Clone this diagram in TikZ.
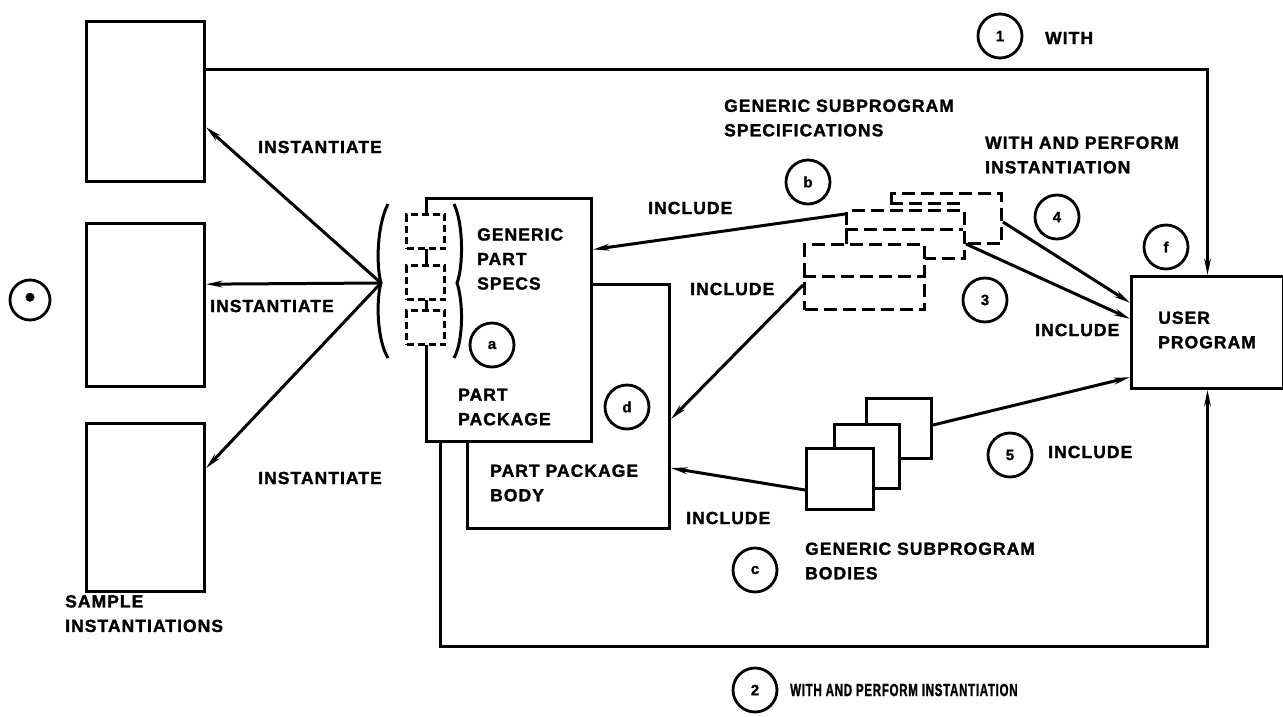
\documentclass[tikz,border=0pt]{standalone}
\usepackage{fontspec}
\setmainfont{Liberation Sans}
\newfontfamily\lblfont{Liberation Sans Bold}[LetterSpace=6,FakeBold=1.6]
\newfontfamily\numfont{Liberation Sans Bold}[FakeBold=1.2]
\usetikzlibrary{arrows.meta}
\begin{document}
\begin{tikzpicture}[x=1pt,y=-1pt,
  ln/.style={line width=3pt},
  arr/.style={ln,-{Stealth[length=16pt,width=6.5pt]}},
  lbl/.style={font=\lblfont\fontsize{17.5}{24.5}\selectfont, align=left, inner sep=0pt, anchor=west},
  cnum/.style={circle,draw,line width=2.8pt,minimum size=44pt,inner sep=0pt,font=\numfont\fontsize{15}{15}\selectfont},
  sbox/.style={draw,line width=3pt,fill=white,anchor=north west,inner sep=0pt},
  dbox/.style={draw,line width=3pt,fill=white,anchor=north west,inner sep=0pt,dash pattern=on 13pt off 6pt},
  qbox/.style={draw,line width=3pt,fill=white,anchor=north west,inner sep=0pt,dash pattern=on 7pt off 4pt,minimum width=38pt,minimum height=34pt},
]
\useasboundingbox (0,0) rectangle (1283,717);

% left sample boxes
\node[sbox,minimum width=118pt,minimum height=160pt] (s1) at (85,20) {};
\node[sbox,minimum width=118pt,minimum height=163pt] (s2) at (85,222) {};
\node[sbox,minimum width=118pt,minimum height=168pt] (s3) at (85,422) {};
\node[cnum,minimum size=40pt] (ce) at (30,300) {\fontsize{30}{30}\selectfont\textbullet};
\node[lbl,anchor=north west] (tsamp) at (65,595) {SAMPLE\\INSTANTIATIONS};

% part package body and part package
\node[sbox,minimum width=202pt,minimum height=244pt] (bd) at (466,283) {};
\node[sbox,minimum width=165pt,minimum height=243pt] (pp) at (425,197) {};
\node[qbox] (q1) at (405,213) {};
\node[qbox] (q2) at (405,264) {};
\node[qbox] (q3) at (405,309) {};

% braces
\coordinate (ap) at (381,283);
\draw[ln] (388,204) .. controls (377,225) and (376,265) .. (ap) .. controls (376,300) and (377,340) .. (388,358);
\draw[ln] (454,204) .. controls (464,225) and (463,268) .. (457,283) .. controls (463,300) and (464,340) .. (454,358);

\node[lbl] (tgps) at (477,259) {GENERIC\\PART\\SPECS};
\node[cnum] (ca) at (492,345) {a};
\node[lbl] (tpp) at (458,407) {PART\\PACKAGE};
\node[cnum] (cd) at (627,407) {d};
\node[lbl] (tbody) at (490,483) {PART PACKAGE\\BODY};

% instantiate arrows
\draw[arr] (ap) -- (s1.-23);
\draw[arr] (ap) -- (s2.19);
\draw[arr] (ap) -- (s3.33);
\node[lbl] (ti1) at (258,147) {INSTANTIATE};
\node[lbl] (ti2) at (210,306) {INSTANTIATE};
\node[lbl] (ti3) at (258,478) {INSTANTIATE};

% generic subprogram specifications (dashed stack)
\node[dbox,minimum width=110pt,minimum height=50pt] (ga) at (890,192) {};
\draw[ln,dash pattern=on 13pt off 6pt] (890,203) -- (963,203);
\node[dbox,minimum width=118pt,minimum height=48pt] (gb) at (845,209) {};
\draw[ln,dash pattern=on 13pt off 6pt] (845,229) -- (963,229);
\node[dbox,minimum width=120pt,minimum height=65pt] (gd) at (803,243) {};
\draw[ln,dash pattern=on 13pt off 6pt] (803,276) -- (923,276);
\node[lbl] (tgss) at (724,118) {GENERIC SUBPROGRAM\\SPECIFICATIONS};
\node[cnum] (cb) at (808,182) {b};

% generic subprogram bodies (solid stack)
\node[sbox,minimum width=65pt,minimum height=60pt] (ba) at (865,397) {};
\node[sbox,minimum width=65pt,minimum height=64pt] (bb) at (833,423) {};
\node[sbox,minimum width=67pt,minimum height=61pt] (bc) at (805,447) {};
\node[lbl] (tgsb) at (805,561) {GENERIC SUBPROGRAM\\BODIES};
\node[cnum] (cc) at (755,570) {c};

% user program
\node[sbox,minimum width=152pt,minimum height=112pt] (up) at (1130,275) {};
\node[lbl] (tup) at (1158,330) {USER\\PROGRAM};
\node[cnum] (cf) at (1166,247) {f};

% include arrows
\draw[arr] (gb.west |- 0,214) -- (pp.40);
\node[lbl] (tin1) at (648,208) {INCLUDE};
\draw[arr] (gd.west |- 0,285) -- (bd.-7);
\node[lbl] (tin2) at (690,289) {INCLUDE};
\draw[arr] (bc.west |- 0,490) -- (bd.-31);
\node[lbl] (tin3) at (686,518) {INCLUDE};

% user program connections
\draw[arr] (ga.east |- 0,222) -- (up.159);
\draw[arr] (gb.east |- 0,244) -- (up.170);
\draw[arr] (ba.east |- 0,425) -- (up.210);
\node[cnum] (c4) at (1057,217) {4};
\node[lbl] (twp1) at (985,155) {WITH AND PERFORM\\INSTANTIATION};
\node[cnum] (c3) at (985,300) {3};
\node[lbl] (tin4) at (1035,330) {INCLUDE};
\node[cnum] (c5) at (1010,455) {5};
\node[lbl] (tin5) at (1048,452) {INCLUDE};

% with lines
\draw[arr] (s1.28) -| (up.north);
\node[cnum] (c1) at (1000,36) {1};
\node[lbl] (twith) at (1045,38) {WITH};
\coordinate (bl) at (440,646);
\draw[arr] ([xshift=15pt]pp.south west) -- (bl) -| (up.south);
\node[cnum] (c2) at (755,690) {2};
\node[lbl] (twp2) at (790,690) {\scalebox{0.66}[1]{WITH AND PERFORM INSTANTIATION}};
\end{tikzpicture}
\end{document}
